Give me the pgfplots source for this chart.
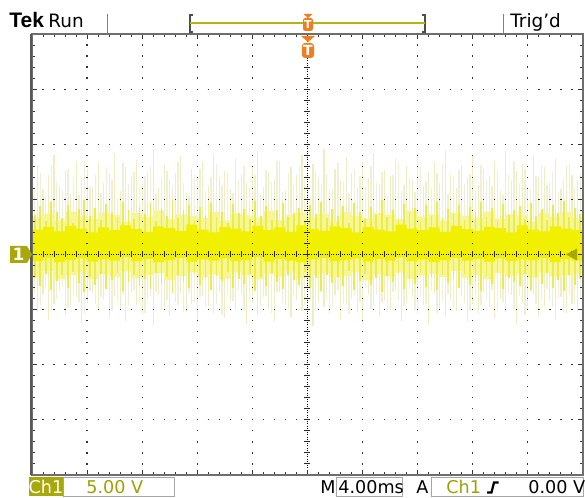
\documentclass[border=0pt]{standalone}
\usepackage{fontspec}
\setmainfont{DejaVu Sans}
\newfontfamily\tekfont{Liberation Sans}
\usepackage{pgfplots}
\pgfplotsset{compat=1.18}
\usepackage{pgfplotstable}
\definecolor{sparseA}{RGB}{238,238,192}
\definecolor{sparseB}{RGB}{240,240,212}
\definecolor{haze}{RGB}{246,246,150}
\definecolor{medium}{RGB}{236,236,70}
\definecolor{core}{RGB}{240,240,0}
\definecolor{olive}{RGB}{168,168,10}
\definecolor{olivetext}{RGB}{160,160,0}
\definecolor{oliveline}{RGB}{180,180,20}
\definecolor{tekorange}{RGB}{240,125,30}
\definecolor{framec}{RGB}{110,110,110}
\newcommand\stfont{\fontsize{8.8}{10}\selectfont}

\pgfplotstableread{
x up dn
-5.0 1.35 -0.85
-4.9 1.62 -1.05
-4.8 1.18 -0.72
-4.7 1.45 -1.18
-4.6 1.80 -0.90
-4.5 1.25 -0.65
-4.4 1.52 -1.10
-4.3 1.10 -0.95
-4.2 1.70 -0.78
-4.1 1.38 -1.25
-4.0 1.55 -0.88
-3.9 1.22 -0.70
-3.8 1.66 -1.02
-3.7 1.30 -0.82
-3.6 1.48 -1.15
-3.5 1.85 -0.75
-3.4 1.15 -0.98
-3.3 1.58 -1.20
-3.2 1.40 -0.68
-3.1 1.72 -0.92
-3.0 1.28 -1.08
-2.9 1.50 -0.80
-2.8 1.90 -1.28
-2.7 1.20 -0.74
-2.6 1.63 -0.96
-2.5 1.35 -1.12
-2.4 1.47 -0.86
-2.3 1.78 -0.70
-2.2 1.12 -1.04
-2.1 1.56 -0.90
-2.0 1.42 -1.22
-1.9 1.68 -0.76
-1.8 1.25 -0.94
-1.7 1.83 -1.06
-1.6 1.38 -0.66
-1.5 1.52 -1.16
-1.4 1.18 -0.84
-1.3 1.74 -1.00
-1.2 1.45 -0.72
-1.1 1.30 -1.26
-1.0 1.60 -0.88
-0.9 1.88 -1.10
-0.8 1.22 -0.78
-0.7 1.50 -0.98
-0.6 1.36 -1.20
-0.5 1.70 -0.70
-0.4 1.15 -0.92
-0.3 1.58 -1.14
-0.2 1.44 -0.82
-0.1 1.80 -1.02
0.0 1.26 -0.68
0.1 1.64 -1.30
0.2 1.40 -0.86
0.3 1.92 -0.96
0.4 1.18 -1.08
0.5 1.55 -0.74
0.6 1.33 -1.18
0.7 1.76 -0.90
0.8 1.48 -0.80
0.9 1.20 -1.04
1.0 1.67 -1.24
1.1 1.38 -0.72
1.2 1.85 -0.94
1.3 1.28 -1.12
1.4 1.54 -0.84
1.5 1.42 -1.00
1.6 1.73 -0.66
1.7 1.16 -1.20
1.8 1.60 -0.88
1.9 1.35 -0.78
2.0 1.82 -1.06
2.1 1.24 -0.92
2.2 1.50 -1.28
2.3 1.68 -0.70
2.4 1.30 -0.98
2.5 1.90 -1.14
2.6 1.45 -0.82
2.7 1.20 -1.02
2.8 1.62 -0.76
2.9 1.38 -1.22
3.0 1.78 -0.90
3.1 1.26 -1.08
3.2 1.56 -0.68
3.3 1.42 -0.96
3.4 1.70 -1.16
3.5 1.15 -0.80
3.6 1.88 -1.04
3.7 1.34 -0.74
3.8 1.52 -1.26
3.9 1.65 -0.86
4.0 1.22 -1.00
4.1 1.80 -0.72
4.2 1.40 -1.12
4.3 1.58 -0.94
4.4 1.30 -0.84
4.5 1.74 -1.18
4.6 1.18 -0.78
4.7 1.60 -1.06
4.8 1.45 -0.90
4.9 1.36 -1.02
5.0 1.55 -0.88
}\tA

\pgfplotstableread{
x up dn mup mdn
-4.95 1.20 -0.70 0.72 -0.42
-4.85 1.48 -0.92 0.88 -0.58
-4.75 1.05 -0.62 0.60 -0.35
-4.65 1.62 -1.00 0.95 -0.65
-4.55 1.32 -0.80 0.78 -0.48
-4.45 1.15 -0.58 0.66 -0.38
-4.35 1.55 -0.96 0.90 -0.60
-4.25 1.40 -0.74 0.58 -0.32
-4.15 1.08 -0.86 0.82 -0.52
-4.05 1.70 -1.08 0.98 -0.68
-3.95 1.25 -0.66 0.70 -0.40
-3.85 1.45 -0.90 0.85 -0.55
-3.75 1.12 -0.78 0.62 -0.36
-3.65 1.58 -0.60 0.92 -0.62
-3.55 1.35 -1.02 0.76 -0.46
-3.45 1.02 -0.84 0.68 -0.34
-3.35 1.66 -0.72 0.96 -0.66
-3.25 1.28 -0.94 0.80 -0.50
-3.15 1.50 -0.64 0.64 -0.38
-3.05 1.18 -0.88 0.87 -0.57
-2.95 1.42 -1.06 0.74 -0.44
-2.85 1.60 -0.76 0.93 -0.63
-2.75 1.10 -0.68 0.60 -0.33
-2.65 1.38 -0.98 0.84 -0.54
-2.55 1.52 -0.82 0.70 -0.41
-2.45 1.22 -0.60 0.99 -0.69
-2.35 1.68 -0.92 0.66 -0.37
-2.25 1.30 -1.04 0.80 -0.50
-2.15 1.06 -0.70 0.90 -0.60
-2.05 1.46 -0.86 0.62 -0.35
-1.95 1.56 -0.78 0.86 -0.56
-1.85 1.16 -0.96 0.72 -0.42
-1.75 1.40 -0.62 0.94 -0.64
-1.65 1.64 -0.90 0.68 -0.39
-1.55 1.26 -1.10 0.78 -0.48
-1.45 1.50 -0.74 0.58 -0.31
-1.35 1.12 -0.84 0.91 -0.61
-1.25 1.36 -0.66 0.75 -0.45
-1.15 1.60 -1.00 0.83 -0.53
-1.05 1.20 -0.80 0.65 -0.36
-0.95 1.44 -0.58 0.97 -0.67
-0.85 1.08 -0.94 0.70 -0.40
-0.75 1.54 -0.76 0.88 -0.58
-0.65 1.32 -1.06 0.62 -0.34
-0.55 1.70 -0.68 0.80 -0.50
-0.45 1.14 -0.88 0.93 -0.63
-0.35 1.48 -0.98 0.68 -0.38
-0.25 1.24 -0.72 0.76 -0.46
-0.15 1.62 -0.62 0.85 -0.55
-0.05 1.38 -0.92 0.60 -0.32
0.05 1.04 -0.84 0.90 -0.60
0.15 1.52 -1.02 0.73 -0.43
0.25 1.28 -0.70 0.96 -0.66
0.35 1.46 -0.80 0.66 -0.37
0.45 1.18 -0.96 0.82 -0.52
0.55 1.66 -0.64 0.70 -0.41
0.65 1.34 -0.90 0.88 -0.58
0.75 1.10 -1.08 0.58 -0.30
0.85 1.56 -0.76 0.94 -0.64
0.95 1.42 -0.86 0.78 -0.48
1.05 1.22 -0.60 0.64 -0.35
1.15 1.60 -0.98 0.86 -0.56
1.25 1.30 -0.74 0.72 -0.42
1.35 1.50 -0.88 0.98 -0.68
1.45 1.06 -1.04 0.68 -0.39
1.55 1.44 -0.68 0.80 -0.50
1.65 1.68 -0.82 0.62 -0.34
1.75 1.26 -0.94 0.92 -0.62
1.85 1.38 -0.62 0.75 -0.45
1.95 1.14 -1.00 0.84 -0.54
2.05 1.58 -0.78 0.60 -0.33
2.15 1.34 -0.90 0.89 -0.59
2.25 1.20 -0.66 0.70 -0.41
2.35 1.48 -1.06 0.95 -0.65
2.45 1.64 -0.84 0.66 -0.37
2.55 1.10 -0.72 0.82 -0.52
2.65 1.40 -0.96 0.74 -0.44
2.75 1.54 -0.60 0.90 -0.60
2.85 1.28 -0.88 0.63 -0.36
2.95 1.46 -1.02 0.86 -0.56
3.05 1.16 -0.74 0.78 -0.48
3.15 1.62 -0.92 0.96 -0.66
3.25 1.36 -0.80 0.68 -0.39
3.35 1.24 -0.64 0.84 -0.54
3.45 1.52 -1.00 0.60 -0.32
3.55 1.08 -0.86 0.92 -0.62
3.65 1.44 -0.70 0.72 -0.43
3.75 1.70 -0.98 0.80 -0.50
3.85 1.30 -0.76 0.88 -0.58
3.95 1.56 -1.10 0.65 -0.36
4.05 1.18 -0.68 0.94 -0.64
4.15 1.42 -0.90 0.70 -0.41
4.25 1.60 -0.82 0.83 -0.53
4.35 1.26 -0.62 0.62 -0.34
4.45 1.50 -0.96 0.90 -0.60
4.55 1.12 -0.78 0.76 -0.46
4.65 1.38 -1.04 0.97 -0.67
4.75 1.64 -0.72 0.68 -0.38
4.85 1.22 -0.88 0.85 -0.55
4.95 1.46 -0.80 0.74 -0.44
}\tB

% haze envelope: upper edge left to right, lower edge right to left
\pgfplotstableread{
x y
-5.0 0.68
-4.8 0.74
-4.6 0.62
-4.4 0.78
-4.2 0.70
-4.0 0.65
-3.8 0.76
-3.6 0.72
-3.4 0.60
-3.2 0.75
-3.0 0.69
-2.8 0.80
-2.6 0.64
-2.4 0.73
-2.2 0.70
-2.0 0.66
-1.8 0.78
-1.6 0.62
-1.4 0.74
-1.2 0.71
-1.0 0.67
-0.8 0.79
-0.6 0.63
-0.4 0.72
-0.2 0.76
0.0 0.68
0.2 0.74
0.4 0.61
0.6 0.77
0.8 0.70
1.0 0.66
1.2 0.75
1.4 0.72
1.6 0.64
1.8 0.79
2.0 0.69
2.2 0.73
2.4 0.62
2.6 0.76
2.8 0.70
3.0 0.67
3.2 0.78
3.4 0.65
3.6 0.73
3.8 0.71
4.0 0.60
4.2 0.75
4.4 0.69
4.6 0.77
4.8 0.66
5.0 0.72
5.0 -0.35
4.8 -0.38
4.6 -0.40
4.4 -0.33
4.2 -0.42
4.0 -0.36
3.8 -0.39
3.6 -0.34
3.4 -0.45
3.2 -0.37
3.0 -0.43
2.8 -0.30
2.6 -0.41
2.4 -0.35
2.2 -0.38
2.0 -0.44
1.8 -0.33
1.6 -0.40
1.4 -0.36
1.2 -0.46
1.0 -0.32
0.8 -0.39
0.6 -0.42
0.4 -0.34
0.2 -0.37
0.0 -0.43
-0.2 -0.31
-0.4 -0.40
-0.6 -0.35
-0.8 -0.45
-1.0 -0.38
-1.2 -0.33
-1.4 -0.44
-1.6 -0.36
-1.8 -0.41
-2.0 -0.32
-2.2 -0.39
-2.4 -0.46
-2.6 -0.34
-2.8 -0.37
-3.0 -0.43
-3.2 -0.31
-3.4 -0.40
-3.6 -0.36
-3.8 -0.44
-4.0 -0.33
-4.2 -0.38
-4.4 -0.45
-4.6 -0.30
-4.8 -0.42
-5.0 -0.35
}\tHaze

% core band: upper edge left to right, lower edge right to left
\pgfplotstableread{
x y
-5.0 0.45
-4.8 0.50
-4.6 0.42
-4.4 0.52
-4.2 0.47
-4.0 0.40
-3.8 0.49
-3.6 0.44
-3.4 0.53
-3.2 0.46
-3.0 0.41
-2.8 0.51
-2.6 0.48
-2.4 0.43
-2.2 0.54
-2.0 0.45
-1.8 0.40
-1.6 0.50
-1.4 0.47
-1.2 0.42
-1.0 0.52
-0.8 0.44
-0.6 0.49
-0.4 0.41
-0.2 0.53
0.0 0.46
0.2 0.43
0.4 0.51
0.6 0.48
0.8 0.40
1.0 0.50
1.2 0.45
1.4 0.42
1.6 0.54
1.8 0.47
2.0 0.44
2.2 0.49
2.4 0.41
2.6 0.52
2.8 0.46
3.0 0.43
3.2 0.50
3.4 0.48
3.6 0.40
3.8 0.53
4.0 0.45
4.2 0.42
4.4 0.51
4.6 0.47
4.8 0.44
5.0 0.49
5.0 -0.11
4.8 -0.08
4.6 -0.14
4.4 -0.06
4.2 -0.10
4.0 -0.09
3.8 -0.12
3.6 -0.07
3.4 -0.13
3.2 -0.08
3.0 -0.11
2.8 -0.06
2.6 -0.10
2.4 -0.14
2.2 -0.09
2.0 -0.12
1.8 -0.05
1.6 -0.11
1.4 -0.08
1.2 -0.13
1.0 -0.07
0.8 -0.10
0.6 -0.12
0.4 -0.06
0.2 -0.09
0.0 -0.14
-0.2 -0.11
-0.4 -0.08
-0.6 -0.13
-0.8 -0.05
-1.0 -0.10
-1.2 -0.12
-1.4 -0.07
-1.6 -0.11
-1.8 -0.09
-2.0 -0.13
-2.2 -0.06
-2.4 -0.10
-2.6 -0.14
-2.8 -0.08
-3.0 -0.12
-3.2 -0.05
-3.4 -0.11
-3.6 -0.09
-3.8 -0.13
-4.0 -0.07
-4.2 -0.10
-4.4 -0.14
-4.6 -0.06
-4.8 -0.12
-5.0 -0.08
}\tCore

\begin{document}
\begin{tikzpicture}
\fill[white] (0,0) rectangle (292.5pt,249pt);
\begin{axis}[
  at={(16pt,11.5pt)}, anchor=south west,
  scale only axis, width=275.5pt, height=220.5pt,
  xmin=-5, xmax=5, ymin=-4, ymax=4,
  xtick={-5,-4,...,5}, ytick={-4,-3,...,4},
  minor x tick num=4, minor y tick num=4,
  xticklabels={}, yticklabels={},
  tick align=inside,
  major tick length=2.5pt, minor tick length=1.4pt,
  tick style={black!80, line width=0.5pt},
  axis line style={framec, line width=1pt},
  axis on top,
]
\addplot[ycomb, sparseB, line width=0.7pt] table[x=x,y=up]{\tB};
\addplot[ycomb, sparseB, line width=0.7pt] table[x=x,y=dn]{\tB};
\addplot[ycomb, sparseA, line width=0.55pt] table[x=x,y=up]{\tA};
\addplot[ycomb, sparseA, line width=0.55pt] table[x=x,y=dn]{\tA};
\addplot[fill=haze, draw=none, const plot] table[x=x,y=y]{\tHaze} -- cycle;
\addplot[ycomb, medium, line width=0.9pt] table[x=x,y=mup]{\tB};
\addplot[ycomb, medium, line width=0.9pt] table[x=x,y=mdn]{\tB};
\addplot[fill=core, draw=none, const plot] table[x=x,y=y]{\tCore} -- cycle;
\pgfplotsinvokeforeach{-4,-3,-2,-1,1,2,3,4}{
  \draw[black!80, line width=0.6pt, dash pattern=on 0.6pt off 4.9125pt, dash phase=0.3pt] (axis cs:#1,-4) -- (axis cs:#1,4);
}
\pgfplotsinvokeforeach{-3,-2,-1,1,2,3}{
  \draw[black!80, line width=0.6pt, dash pattern=on 0.6pt off 4.91pt, dash phase=0.3pt] (axis cs:-5,#1) -- (axis cs:5,#1);
}
\draw[black, line width=0.5pt, dash pattern=on 0.5pt off 0.6pt] (axis cs:0,-4) -- (axis cs:0,4);
\draw[black, line width=0.5pt, dash pattern=on 0.5pt off 0.6pt] (axis cs:-5,0) -- (axis cs:5,0);
\draw[black!85, line width=3pt, dash pattern=on 0.5pt off 5.0125pt, dash phase=0.25pt] (axis cs:0,-4) -- (axis cs:0,4);
\draw[black!85, line width=3pt, dash pattern=on 0.5pt off 5.01pt, dash phase=0.25pt] (axis cs:-5,0) -- (axis cs:5,0);
\end{axis}
\begin{scope}[x=0.5pt,y=0.5pt]
% left thick frame
\draw[framec!80!black, line width=1.2pt] (31,23) -- (31,464);
% top bar
\node[anchor=base west, inner sep=0] at (9,470) {\tekfont\bfseries\fontsize{10.5}{12}\selectfont Tek};
\node[anchor=base west, inner sep=0] at (48,470) {\fontsize{9.2}{11}\selectfont Run};
\draw[gray, line width=0.5pt] (107,484) -- (107,464);
\draw[gray, line width=0.5pt] (503,484) -- (503,464);
\node[anchor=base west, inner sep=0] at (510,470) {\fontsize{9.2}{11}\selectfont Trig'd};
\draw[black!70, line width=0.6pt] (193,483) -- (190,483) -- (190,466) -- (193,466);
\draw[black!70, line width=0.6pt] (422,483) -- (425,483) -- (425,466) -- (422,466);
\draw[oliveline, line width=0.7pt] (190,475) -- (425,475);
\fill[tekorange] (303.5,484) -- (312.5,484) -- (308,480) -- cycle;
\fill[tekorange, rounded corners=1.2pt] (303,480) rectangle (313,467);
\node[white, inner sep=0] at (308,473.5) {\bfseries\fontsize{5.5}{6}\selectfont T};
\fill[tekorange] (301,462) -- (315,462) -- (308,456) -- cycle;
\fill[tekorange, rounded corners=1.5pt] (302,455) rectangle (314,440);
\node[white, inner sep=0] at (308,447.5) {\bfseries\fontsize{7}{8}\selectfont T};
% channel marker and trigger level
\fill[olive] (10,252) -- (27,252) -- (32,243.5) -- (27,235) -- (10,235) -- cycle;
\node[white, inner sep=0] at (18.5,243.5) {\bfseries\fontsize{8.5}{9}\selectfont 1};
\fill[olive] (566,243.5) -- (577,249.5) -- (577,237.5) -- cycle;
% bottom bar
\fill[olive] (29,1.5) rectangle (63,20.5);
\node[white, anchor=base, inner sep=0] at (46,4) {\stfont Ch1};
\draw[black!35, line width=0.5pt] (63,1.5) rectangle (174,20.5);
\node[olivetext, anchor=base west, inner sep=0] at (86,4) {\stfont 5.00 V};
\node[anchor=base west, inner sep=0] at (320,4) {\stfont M};
\draw[black!35, line width=0.5pt] (336,1.5) rectangle (402,20.5);
\node[anchor=base west, inner sep=0] at (338,4) {\stfont 4.00ms};
\node[anchor=base west, inner sep=0] at (416,4) {\stfont A};
\draw[black!35, line width=0.5pt] (431,1.5) rectangle (583.5,20.5);
\node[olivetext, anchor=base west, inner sep=0] at (446,4) {\stfont Ch1};
\draw[black, line width=1.1pt] (487,5.5) -- (491.5,5.5) -- (494,15.5) -- (498.5,15.5);
\node[anchor=base west, inner sep=0] at (528,4) {\stfont 0.00 V};
\end{scope}
\pgfresetboundingbox
\path[use as bounding box] (0,0) rectangle (292.5pt,249pt);
\end{tikzpicture}
\end{document}
